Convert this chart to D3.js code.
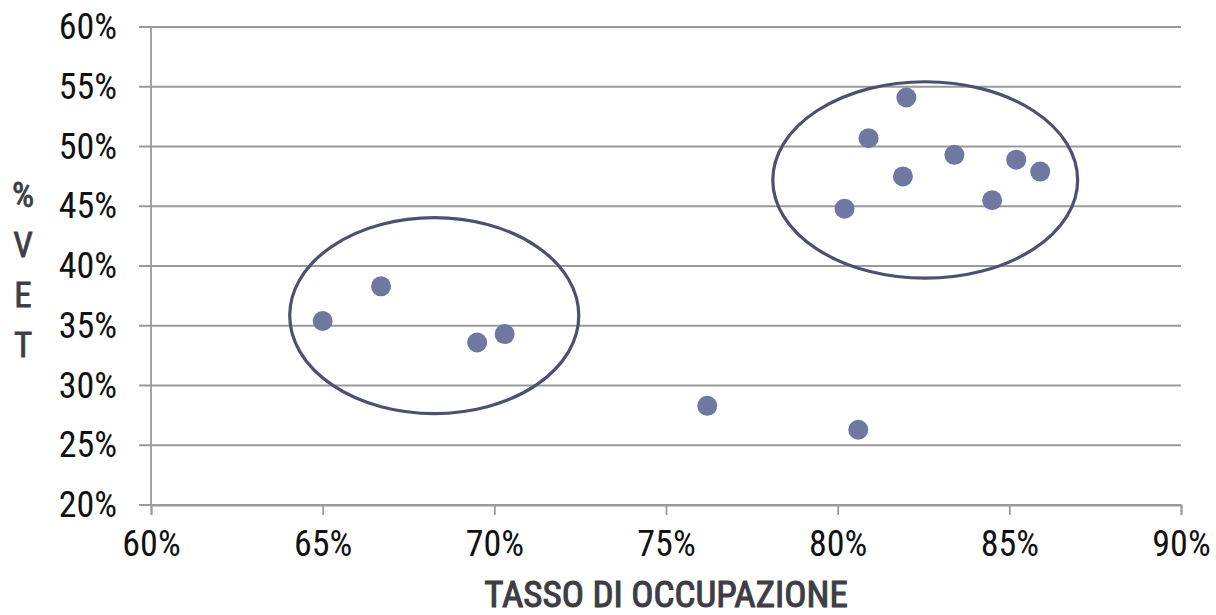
<!DOCTYPE html>
<html>
<head>
<meta charset="utf-8">
<script src="https://cdn.jsdelivr.net/npm/d3@7"></script>
<style>
  html, body { margin: 0; padding: 0; background: #ffffff; }
  svg { display: block; }
  text { font-family: "Roboto Condensed", "Liberation Sans Narrow", "Arial Narrow", sans-serif; }
</style>
</head>
<body>
<svg id="chart" width="1216" height="615"></svg>
<script>
// Data (percent values)
const occupazione = [65.0, 66.7, 69.5, 70.3, 76.2, 80.6, 80.2, 80.9, 82.0, 81.9, 83.4, 84.5, 85.2, 85.9];
const vet         = [35.4, 38.3, 33.6, 34.3, 28.3, 26.3, 44.8, 50.7, 54.1, 47.5, 49.3, 45.5, 48.9, 47.9];
const xTicks = [60, 65, 70, 75, 80, 85, 90];
const yTicks = [20, 25, 30, 35, 40, 45, 50, 55, 60];
// Highlight ellipses: centre x, centre y, half-width, half-height (percent units)
const ellipseCx = [68.25, 82.55];
const ellipseCy = [35.85, 47.2];
const ellipseRx = [4.21, 4.44];
const ellipseRy = [8.2, 8.22];
const xTitle = "TASSO DI OCCUPAZIONE";
const yTitle = ["%", "V", "E", "T"];

const svg = d3.select("#chart");
const x = d3.scaleLinear().domain([60, 90]).range([151, 1181]);
const y = d3.scaleLinear().domain([20, 60]).range([505, 27]);
const gridColor = "#9a9a9a";
const fontStack = '"Roboto Condensed", "Liberation Sans Narrow", "Arial Narrow", sans-serif';

// Horizontal gridlines
svg.append("g").selectAll("line").data(yTicks).join("line")
  .attr("x1", x(60) - 12).attr("x2", x(90))
  .attr("y1", d => y(d)).attr("y2", d => y(d))
  .attr("stroke", gridColor).attr("stroke-width", 1.8);

// Y axis line
svg.append("line")
  .attr("x1", x(60)).attr("x2", x(60))
  .attr("y1", y(60)).attr("y2", y(20))
  .attr("stroke", gridColor).attr("stroke-width", 1.8);

// X axis
const xAxis = svg.append("g")
  .attr("transform", `translate(0,${y(20)})`)
  .call(d3.axisBottom(x).tickValues(xTicks).tickFormat(d => d + "%").tickSize(10).tickPadding(15));
xAxis.select(".domain").attr("stroke", gridColor).attr("stroke-width", 1.8);
xAxis.selectAll(".tick line").attr("stroke", gridColor).attr("stroke-width", 1.8);
xAxis.selectAll(".tick text")
  .attr("font-size", 36).attr("font-weight", 400).attr("fill", "#111")
  .style("font-family", fontStack);

// Y axis labels
const yAxis = svg.append("g")
  .attr("transform", `translate(${x(60)},0)`)
  .call(d3.axisLeft(y).tickValues(yTicks).tickFormat(d => d + "%").tickSize(0).tickPadding(34));
yAxis.select(".domain").remove();
yAxis.selectAll(".tick text")
  .attr("font-size", 36).attr("font-weight", 400).attr("fill", "#111")
  .style("font-family", fontStack);

// Ellipses
svg.append("g").selectAll("ellipse").data(ellipseCx).join("ellipse")
  .attr("cx", (d, i) => x(d))
  .attr("cy", (d, i) => y(ellipseCy[i]))
  .attr("rx", (d, i) => x(d + ellipseRx[i]) - x(d))
  .attr("ry", (d, i) => y(ellipseCy[i] - ellipseRy[i]) - y(ellipseCy[i]))
  .attr("fill", "none").attr("stroke", "#4b5170").attr("stroke-width", 3.2);

// Points
svg.append("g").selectAll("circle").data(occupazione).join("circle")
  .attr("cx", d => x(d))
  .attr("cy", (d, i) => y(vet[i]))
  .attr("r", 10)
  .attr("fill", "#6f78a1");

// X title
svg.append("text")
  .attr("x", (x(60) + x(90)) / 2).attr("y", 607)
  .attr("text-anchor", "middle")
  .attr("font-size", 37).attr("font-weight", 400).attr("fill", "#3d3d45")
  .attr("stroke", "#3d3d45").attr("stroke-width", 1.1)
  .text(xTitle);

// Y title stacked letters
svg.append("g").selectAll("text").data(yTitle).join("text")
  .attr("x", 23).attr("y", (d, i) => 207 + i * 50)
  .attr("text-anchor", "middle")
  .attr("font-size", 35).attr("font-weight", 400).attr("fill", "#3d3d45")
  .attr("stroke", "#3d3d45").attr("stroke-width", 0.8)
  .text(d => d);
</script>
</body>
</html>
